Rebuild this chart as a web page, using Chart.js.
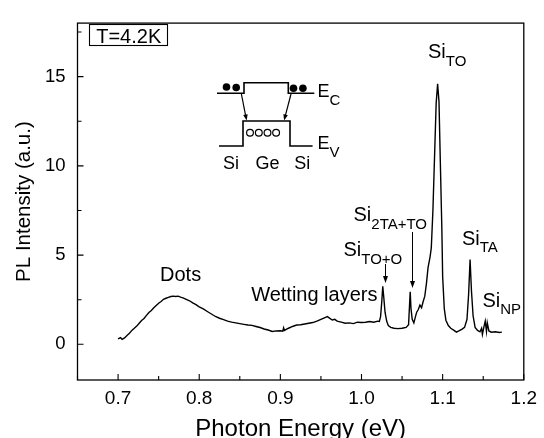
<!DOCTYPE html>
<html><head><meta charset="utf-8">
<script src="https://cdn.jsdelivr.net/npm/chart.js@4.4.1/dist/chart.umd.min.js"></script>
<style>html,body{margin:0;padding:0;background:#fff}canvas{display:block}</style>
</head><body>
<canvas id="c" width="544" height="438"></canvas>
<script>
// Photon energy (eV)
const energy = [
0.700,0.703,0.705,0.708,0.711,0.714,0.717,0.720,0.723,0.726,0.729,0.732,0.735,0.738,0.741,0.744,0.747,0.750,0.753,0.756,
0.759,0.762,0.765,0.768,0.771,0.774,0.777,0.780,0.784,0.788,0.792,0.796,0.800,0.805,0.810,0.815,0.820,0.825,0.830,0.835,
0.840,0.845,0.850,0.855,0.860,0.865,0.870,0.875,0.880,0.885,0.890,0.895,0.900,0.903,0.904,0.905,0.910,0.915,0.920,0.925,
0.930,0.935,0.940,0.945,0.950,0.955,0.958,0.961,0.964,0.967,0.970,0.975,0.980,0.985,0.990,0.995,1.000,1.005,1.010,1.015,
1.020,1.022,1.0235,1.025,1.0262,1.0275,1.029,1.031,1.033,1.036,1.040,1.045,1.050,1.055,1.058,1.0592,1.0600,1.0610,1.0625,1.0645,
1.0665,1.068,1.070,1.072,1.074,1.076,1.078,1.080,1.082,1.0845,1.086,1.088,1.090,1.092,1.0938,1.0955,1.097,1.099,1.100,1.102,
1.104,1.107,1.110,1.114,1.117,1.120,1.124,1.127,1.130,1.132,1.1338,1.1355,1.1375,1.140,1.143,1.146,1.148,1.149,1.151,1.1525,
1.154,1.155,1.157,1.160,1.165,1.170,1.173
];
// PL intensity (a.u.)
const intensity = [
0.30,0.38,0.28,0.36,0.50,0.62,0.78,0.90,1.02,1.18,1.33,1.45,1.62,1.78,1.90,2.05,2.18,2.30,2.40,2.52,
2.58,2.63,2.68,2.70,2.68,2.70,2.64,2.60,2.52,2.44,2.32,2.22,2.10,1.98,1.84,1.70,1.56,1.46,1.38,1.30,
1.24,1.20,1.16,1.12,1.08,1.06,1.00,0.94,0.86,0.80,0.72,0.75,0.76,0.74,0.92,0.78,0.90,1.00,1.08,1.10,
1.14,1.18,1.22,1.30,1.40,1.50,1.55,1.45,1.36,1.40,1.30,1.24,1.18,1.20,1.16,1.24,1.22,1.24,1.28,1.24,
1.30,1.28,1.55,2.40,3.25,2.60,1.80,1.30,1.05,0.95,0.90,0.88,0.90,0.95,1.10,2.20,2.95,2.00,1.40,1.20,
1.55,1.80,1.95,2.20,2.05,2.40,2.70,3.40,4.30,4.90,5.40,7.50,10.50,13.50,14.60,13.60,10.50,6.50,3.80,2.00,
1.35,1.05,0.90,0.78,0.68,0.75,0.85,0.95,1.40,2.80,4.75,3.00,1.60,0.95,0.78,0.70,0.90,0.55,1.00,1.30,
0.72,1.20,0.75,0.68,0.70,0.66,0.68
];
const xTickValues = [0.7, 0.8, 0.9, 1.0, 1.1, 1.2];
const xMinorTickValues = [0.65, 0.75, 0.85, 0.95, 1.05, 1.15];
const yTickValues = [0, 5, 10, 15];
const yMinorTickValues = [2.5, 7.5, 12.5, 17.5];
const xTitle = 'Photon Energy (eV)';
const yTitle = 'PL Intensity (a.u.)';

const FONT = "'Liberation Sans', Arial, sans-serif";

const points = energy.map((e, i) => ({x: e, y: intensity[i]}));

function subText(ctx, main, sub, x, y, dy, mainSize, subSize) {
  ctx.textAlign = 'left';
  ctx.textBaseline = 'alphabetic';
  ctx.font = mainSize + 'px ' + FONT;
  ctx.fillText(main, x, y);
  const w = ctx.measureText(main).width;
  ctx.font = subSize + 'px ' + FONT;
  ctx.fillText(sub, x + w, y + dy);
}
function arrowDown(ctx, x, y1, y2) {
  ctx.beginPath(); ctx.moveTo(x, y1); ctx.lineTo(x, y2 - 5); ctx.stroke();
  ctx.beginPath(); ctx.moveTo(x, y2); ctx.lineTo(x - 2.5, y2 - 7); ctx.lineTo(x + 2.5, y2 - 7); ctx.closePath(); ctx.fill();
}
function arrowTo(ctx, x1, y1, x2, y2) {
  const a = Math.atan2(y2 - y1, x2 - x1), L = 6, W = 2.3;
  ctx.beginPath(); ctx.moveTo(x1, y1); ctx.lineTo(x2 - L*0.8*Math.cos(a), y2 - L*0.8*Math.sin(a)); ctx.stroke();
  ctx.beginPath(); ctx.moveTo(x2, y2);
  ctx.lineTo(x2 - L*Math.cos(a) + W*Math.sin(a), y2 - L*Math.sin(a) - W*Math.cos(a));
  ctx.lineTo(x2 - L*Math.cos(a) - W*Math.sin(a), y2 - L*Math.sin(a) + W*Math.cos(a));
  ctx.closePath(); ctx.fill();
}

const decor = {
  id: 'decor',
  afterDraw(chart) {
    const ctx = chart.ctx, a = chart.chartArea, xs = chart.scales.x, ys = chart.scales.y;
    ctx.save();
    ctx.strokeStyle = '#000'; ctx.fillStyle = '#000';
    // frame
    ctx.lineWidth = 1.3;
    ctx.strokeRect(a.left, a.top, a.right - a.left, a.bottom - a.top);
    // inward ticks
    ctx.lineWidth = 1.1;
    ctx.beginPath();
    xTickValues.forEach(v => { const p = xs.getPixelForValue(v); ctx.moveTo(p, a.bottom); ctx.lineTo(p, a.bottom - 6); });
    xMinorTickValues.forEach(v => { const p = xs.getPixelForValue(v); ctx.moveTo(p, a.bottom); ctx.lineTo(p, a.bottom - 4); });
    yTickValues.forEach(v => { const p = ys.getPixelForValue(v); ctx.moveTo(a.left, p); ctx.lineTo(a.left + 6, p); });
    yMinorTickValues.forEach(v => { const p = ys.getPixelForValue(v); ctx.moveTo(a.left, p); ctx.lineTo(a.left + 4, p); });
    ctx.stroke();

    // T=4.2K box
    ctx.lineWidth = 1.1;
    ctx.strokeRect(89.5, 24.5, 78, 21);
    ctx.font = '20px ' + FONT; ctx.textAlign = 'center'; ctx.textBaseline = 'alphabetic';
    ctx.fillText('T=4.2K', 128.7, 42.5);

    // band diagram inset
    ctx.lineWidth = 1.6;
    ctx.beginPath();
    ctx.moveTo(217, 93.3); ctx.lineTo(244, 93.3); ctx.lineTo(244, 82.7); ctx.lineTo(288.3, 82.7); ctx.lineTo(288.3, 93.3); ctx.lineTo(314.3, 93.3);
    ctx.moveTo(219, 146); ctx.lineTo(243, 146); ctx.lineTo(243, 121); ctx.lineTo(290, 121); ctx.lineTo(290, 146); ctx.lineTo(312.6, 146);
    ctx.stroke();
    [[226.5, 87], [236.2, 87.5], [293.5, 88.3], [302.9, 88.3]].forEach(([x, y]) => { ctx.beginPath(); ctx.arc(x, y, 3.8, 0, Math.PI*2); ctx.fill(); });
    ctx.lineWidth = 1.2;
    [250, 258.8, 267.5, 276.1].forEach(x => { ctx.beginPath(); ctx.arc(x, 132.7, 3.4, 0, Math.PI*2); ctx.stroke(); });
    ctx.lineWidth = 1.2;
    arrowTo(ctx, 241.4, 94, 246.6, 120.5);
    arrowTo(ctx, 291, 94, 284.1, 120.5);
    ctx.font = '18px ' + FONT; ctx.textAlign = 'center'; ctx.textBaseline = 'alphabetic';
    ctx.fillText('Si', 231, 168.5); ctx.fillText('Ge', 267.5, 168.5); ctx.fillText('Si', 302.2, 168.5);
    subText(ctx, 'E', 'C', 317.5, 97, 8, 18, 15);
    subText(ctx, 'E', 'V', 317.5, 149, 8, 18, 15);

    // peak labels
    ctx.font = '20px ' + FONT; ctx.textAlign = 'center';
    ctx.fillText('Dots', 180.6, 280.5);
    ctx.fillText('Wetting layers', 314.3, 301);
    subText(ctx, 'Si', 'TO+O', 343.5, 256, 7.5, 20, 15);
    subText(ctx, 'Si', '2TA+TO', 353.5, 221, 7.5, 20, 15);
    subText(ctx, 'Si', 'TO', 428, 58, 7.5, 20, 15);
    subText(ctx, 'Si', 'TA', 462, 245, 6.5, 20, 15);
    subText(ctx, 'Si', 'NP', 482.5, 307, 6.5, 20, 15);
    ctx.lineWidth = 1;
    arrowDown(ctx, 385.5, 264, 283);
    arrowDown(ctx, 412.5, 232, 288);
    ctx.restore();
  }
};

new Chart(document.getElementById('c'), {
  type: 'line',
  data: { datasets: [{ data: points, borderColor: '#000', borderWidth: 1.4, pointRadius: 0, tension: 0, fill: false }] },
  options: {
    responsive: false, animation: false, parsing: true,
    layout: { padding: { left: 0, right: 17, top: 12, bottom: 0 } },
    plugins: { legend: { display: false }, tooltip: { enabled: false } },
    scales: {
      x: {
        type: 'linear', min: 0.65, max: 1.2,
        grid: { display: false, drawTicks: false }, border: { display: false },
        afterBuildTicks: s => { s.ticks = xTickValues.map(v => ({ value: v })); },
        afterFit: s => { s.height = 58; },
        ticks: { color: '#000', padding: 7, maxRotation: 0, autoSkip: false, font: { family: FONT, size: 19 }, callback: v => Number(v).toFixed(1) },
        title: { display: true, text: xTitle, color: '#000', font: { family: FONT, size: 24, lineHeight: 1 }, padding: { top: 0, bottom: -3 } }
      },
      y: {
        type: 'linear', min: -2, max: 18,
        grid: { display: false, drawTicks: false }, border: { display: false },
        afterBuildTicks: s => { s.ticks = yTickValues.map(v => ({ value: v })); },
        afterFit: s => { s.width = 77.5; },
        ticks: { color: '#000', padding: 12, autoSkip: false, font: { family: FONT, size: 18.5 }, callback: v => String(v) },
        title: { display: true, text: yTitle, color: '#000', font: { family: FONT, size: 20.5, lineHeight: 1 }, padding: { top: 14, bottom: 0 } }
      }
    }
  },
  plugins: [decor]
});
</script>
</body></html>
